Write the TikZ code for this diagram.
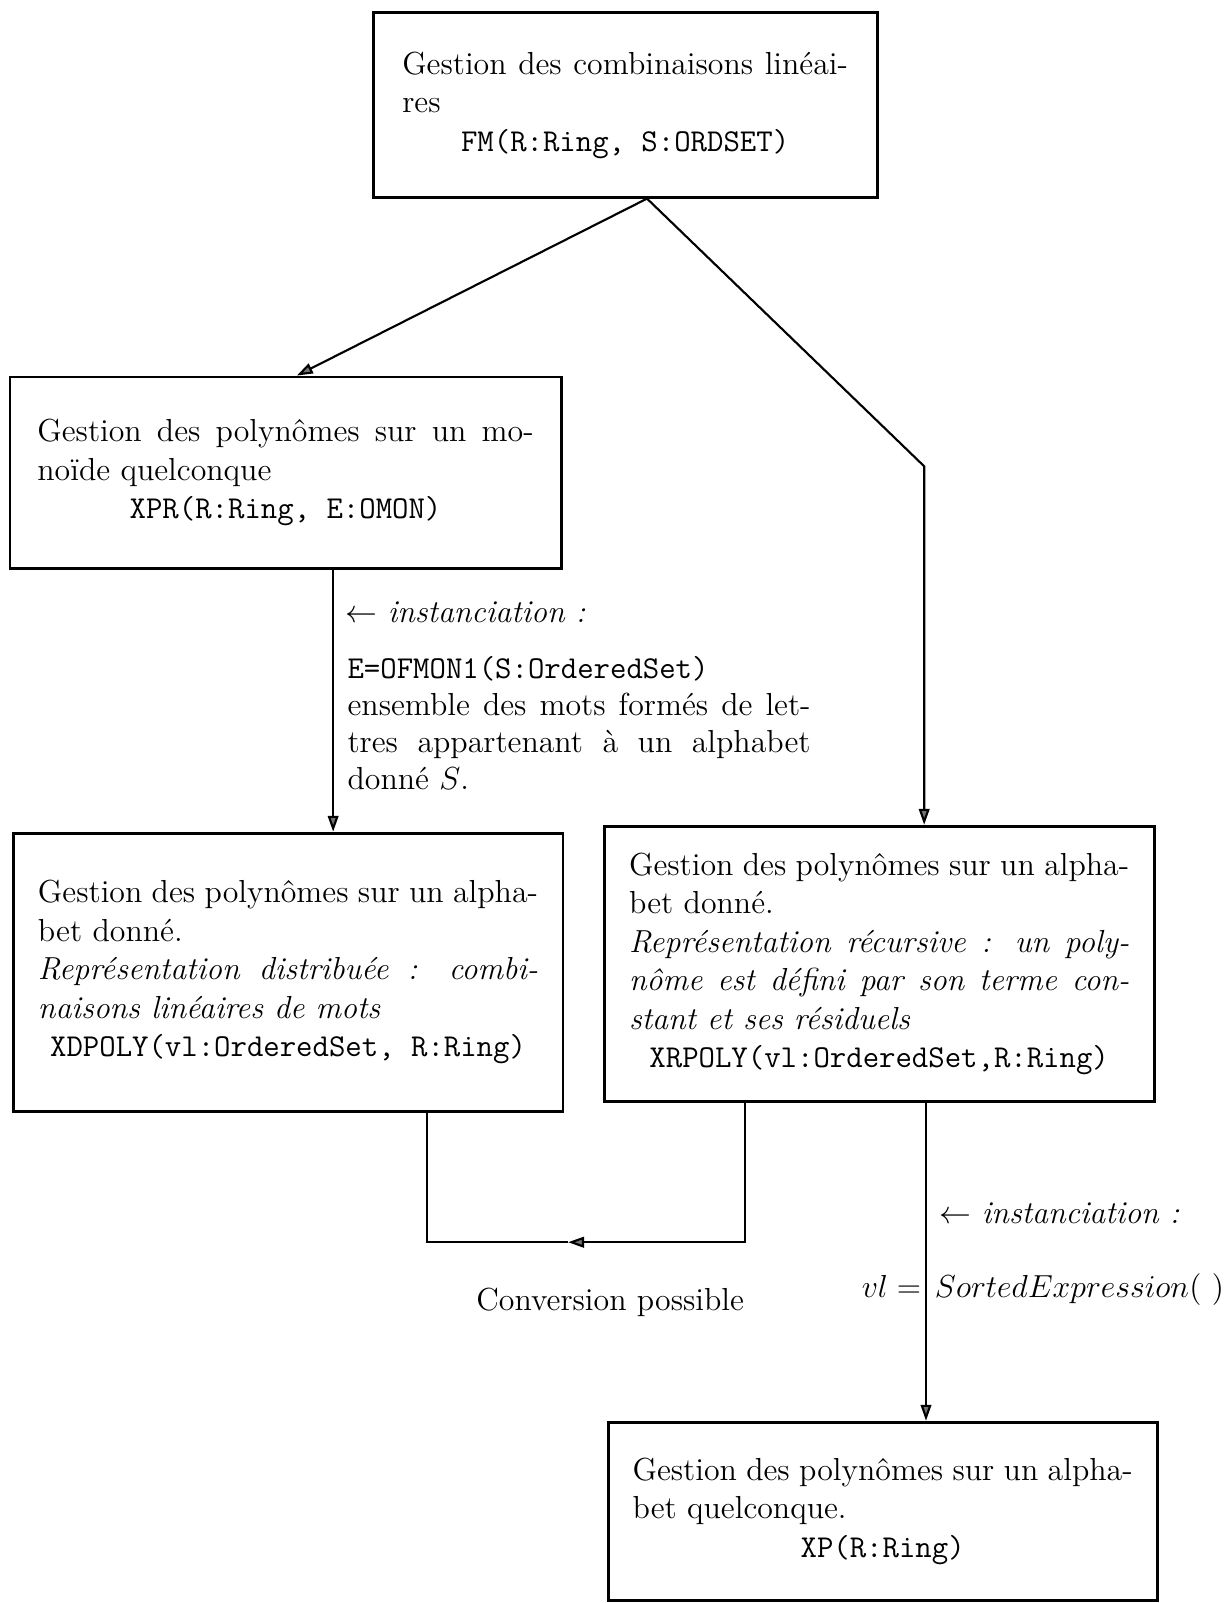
\documentclass[tikz,border=0pt]{standalone}
\usetikzlibrary{
  positioning,
  calc,
  arrows.meta}
\definecolor{tipcolor}{RGB}{115,115,115}
\tikzset{
  %% module : a box around one domain
  module/.style={
    rectangle,
    draw=black,
    line width=1.1pt,
    inner sep=0pt,
    align=justify,
    font=\fontsize{12}{14.5}\selectfont
  },
  %% link : connection between modules
  link/.style={
    line width=0.8pt,
    -{Triangle[length=6pt, width=4pt, fill=tipcolor]}
  },
  %% plainlink : connection without tip
  plainlink/.style={
    line width=0.8pt
  },
  %% remark : text beside a link
  remark/.style={
    inner sep=0pt,
    font=\fontsize{12}{14}\selectfont
  }
}

\begin{document}
\begin{tikzpicture}
  [x=1cm,
  y=-1cm]

  \useasboundingbox (0, 0) rectangle (16.19, 21.22);

  %% Modules
  \node (fm) [module, text width=5.9cm, minimum width=6.67cm,
    minimum height=2.44cm] at (8.275, 1.39) {%
    Gestion des combinaisons linéai-\linebreak
    res\par
    \centerline{\texttt{FM(R:Ring, S:ORDSET)}}
  };

  \node (xpr) [module, text width=6.57cm, minimum width=7.295cm,
    minimum height=2.53cm] at (3.78, 6.256) {%
    Gestion des polynômes sur un mo-\linebreak
    noïde quelconque\par
    \centerline{\texttt{XPR(R:Ring, E:OMON)}}
  };

  \node (xdpoly) [module, text width=6.62cm, minimum width=7.28cm,
    minimum height=3.68cm] at (3.813, 12.869) {%
    Gestion des polynômes sur un alpha-\linebreak
    bet donné.\par
    \textit{Représentation distribuée : combi-\linebreak
    naisons linéaires de mots}\par
    \centerline{\texttt{XDPOLY(vl:OrderedSet, R:Ring)}}
  };

  \node (xrpoly) [module, text width=6.62cm, minimum width=7.28cm,
    minimum height=3.64cm] at (11.638, 12.757) {%
    Gestion des polynômes sur un alpha-\linebreak
    bet donné.\par
    \textit{Représentation récursive : un poly-\linebreak
    nôme est défini par son terme con-\linebreak
    stant et ses résiduels}\par
    \centerline{\texttt{XRPOLY(vl:OrderedSet,R:Ring)}}
  };

  \node (xp) [module, text width=6.62cm, minimum width=7.27cm,
    minimum height=2.36cm] at (11.684, 20.006) {%
    Gestion des polynômes sur un alpha-\linebreak
    bet quelconque.\par
    \centerline{\texttt{XP(R:Ring)}}
  };

  %% Connections
  \coordinate (apex) at ($(fm.south) + (0.29, 0)$);
  \coordinate (bend) at ($(xrpoly.north) + (0.596, -4.745)$);
  \draw [link] (apex) -- ($(xpr.north) + (0.15, 0)$);
  \draw [link] (apex) -- (bend) -- (bend |- xrpoly.north);

  \coordinate (instleft) at ($(xpr.south) + (0.63, 0)$);
  \draw [link] (instleft) -- (instleft |- xdpoly.north);

  \coordinate (instright) at ($(xrpoly.south) + (0.62, 0)$);
  \draw [link] (instright) -- (instright |- xp.north);

  %% Conversion between the two representations
  \coordinate (convR) at (9.864, 16.444);
  \coordinate (convL) at (5.653, 16.444);
  \coordinate (convtip) at (7.52, 16.444);
  \draw [link] (convR |- xrpoly.south) -- (convR) -- (convtip);
  \draw [plainlink] (convtip) -- (convL) -- (convL |- xdpoly.south);

  %% Labels
  \node (instA) [remark, anchor=base west] at (4.568, 8.24) {%
    $\leftarrow$ \textit{instanciation :}};

  \node (ofmon) [remark, anchor=base west, text width=6.13cm,
    align=justify] at (4.594, 8.98) {%
    \texttt{E=OFMON1(S:OrderedSet)}\par
    ensemble des mots formés de let-\linebreak
    tres appartenant à un alphabet\linebreak
    donné $S$.
  };

  \node (conv) [remark, anchor=base] at (8.077, 17.344) {%
    Conversion possible};

  \node (instB) [remark, anchor=base west] at (12.432, 16.193) {%
    $\leftarrow$ \textit{instanciation :}};

  \node (vl) [remark, anchor=base east] at (12.2, 17.17) {$vl =$};
  \node (sorted) [remark, anchor=base west] at ($(vl.base east) + (0.17, 0)$)
  {$SortedExpression(\ )$};

\end{tikzpicture}
\end{document}
